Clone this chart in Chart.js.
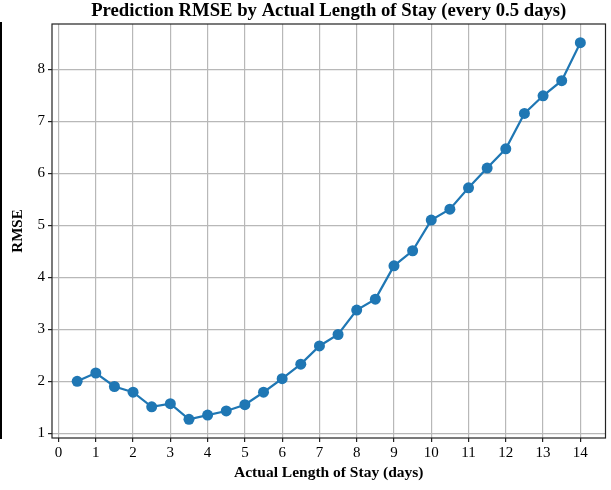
<!DOCTYPE html>
<html>
<head>
<meta charset="utf-8">
<script src="https://cdn.jsdelivr.net/npm/chart.js@4/dist/chart.umd.min.js"></script>
<style>
  html, body { margin: 0; padding: 0; background: #fff; }
  #wrap { width: 611px; height: 490px; }
</style>
</head>
<body>
<div id="wrap"><canvas id="rmseChart" width="611" height="490"></canvas></div>
<script>
// length of stay buckets (days) and RMSE
let stayDays = [0.5, 1, 1.5, 2, 2.5, 3, 3.5, 4, 4.5, 5, 5.5, 6, 6.5, 7,
                7.5, 8, 8.5, 9, 9.5, 10, 10.5, 11, 11.5, 12, 12.5, 13, 13.5, 14];
let rmseValues = [2.00, 2.16, 1.90, 1.79, 1.51, 1.57, 1.27, 1.35, 1.43, 1.55, 1.79, 2.05, 2.33, 2.68,
                  2.90, 3.37, 3.58, 4.22, 4.51, 5.10, 5.31, 5.72, 6.10, 6.47, 7.15, 7.49, 7.78, 8.51];
let xTickValues = [0, 1, 2, 3, 4, 5, 6, 7, 8, 9, 10, 11, 12, 13, 14];
let yTickValues = [1, 2, 3, 4, 5, 6, 7, 8];
let chartTitle = 'Prediction RMSE by Actual Length of Stay (every 0.5 days)';

const serif = "'Liberation Serif', 'Times New Roman', serif";

let points = stayDays.map((d, i) => ({ x: d, y: rmseValues[i] }));

// title centred over the plot, box around the plot, and the stray line at the left edge
const framePlugin = {
    id: 'frame',
    afterDraw(chart) {
        let ctx = chart.ctx;
        let a = chart.chartArea;
        ctx.save();
        ctx.strokeStyle = '#222';
        ctx.lineWidth = 1.2;
        ctx.strokeRect(a.left, a.top, a.right - a.left, a.bottom - a.top);

        ctx.strokeStyle = '#000';
        ctx.lineWidth = 2;
        ctx.beginPath();
        ctx.moveTo(1, 22);
        ctx.lineTo(1, 439);
        ctx.stroke();

        ctx.fillStyle = '#000';
        ctx.font = 'bold 18.7px ' + serif;
        ctx.textAlign = 'center';
        ctx.textBaseline = 'middle';
        ctx.fillText(chartTitle, (a.left + a.right) / 2, 11);
        ctx.restore();
    }
};

let ctx = document.getElementById('rmseChart').getContext('2d');
new Chart(ctx, {
    type: 'scatter',
    data: {
        datasets: [{
            data: points,
            showLine: true,
            borderColor: '#1f77b4',
            backgroundColor: '#1f77b4',
            borderWidth: 2.2,
            pointRadius: 5.5,
            pointHoverRadius: 5.5,
            pointBorderWidth: 0
        }]
    },
    options: {
        responsive: false,
        animation: false,
        layout: { padding: { left: 0, right: 2, top: 24, bottom: 0 } },
        plugins: {
            legend: { display: false },
            tooltip: { enabled: false },
            title: { display: false }
        },
        scales: {
            x: {
                type: 'linear',
                min: -0.175,
                max: 14.675,
                afterBuildTicks: s => { s.ticks = xTickValues.map(v => ({ value: v })); },
                afterFit: s => { s.height = 52; },
                grid: { color: '#b8b8b8', lineWidth: 1.2, tickColor: '#222', tickLength: 4 },
                border: { display: false },
                ticks: { color: '#000', padding: 2, font: { family: serif, size: 15 }, maxRotation: 0 },
                title: {
                    display: true,
                    text: 'Actual Length of Stay (days)',
                    color: '#000',
                    font: { family: serif, size: 15.5, weight: 'bold' },
                    padding: { top: 0, bottom: 8 }
                }
            },
            y: {
                min: 0.91,
                max: 8.87,
                afterBuildTicks: s => { s.ticks = yTickValues.map(v => ({ value: v })); },
                afterFit: s => { s.width = 52; },
                grid: { color: '#b8b8b8', lineWidth: 1.2, tickColor: '#222', tickLength: 4 },
                border: { display: false },
                ticks: { color: '#000', padding: 3, font: { family: serif, size: 15 } },
                title: {
                    display: true,
                    text: 'RMSE',
                    color: '#000',
                    font: { family: serif, size: 15, weight: 'bold' },
                    padding: { top: 9, bottom: 0 }
                }
            }
        }
    },
    plugins: [framePlugin]
});
</script>
</body>
</html>
